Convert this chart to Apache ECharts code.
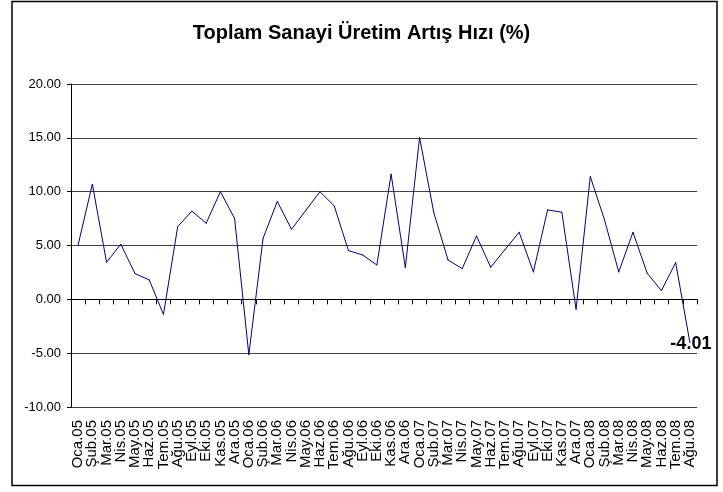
<!DOCTYPE html>
<html>
<head>
<meta charset="utf-8">
<style>
  html, body { margin: 0; padding: 0; background: #fff; }
  #chart { width: 723px; height: 492px; }
</style>
<script src="https://cdn.jsdelivr.net/npm/echarts@6/dist/echarts.min.js"></script>
</head>
<body>
<div id="chart"></div>
<script>
  var categories = [
    'Oca.05', 'Şub.05', 'Mar.05', 'Nis.05', 'May.05', 'Haz.05', 'Tem.05', 'Ağu.05', 'Eyl.05', 'Eki.05', 'Kas.05', 'Ara.05',
    'Oca.06', 'Şub.06', 'Mar.06', 'Nis.06', 'May.06', 'Haz.06', 'Tem.06', 'Ağu.06', 'Eyl.06', 'Eki.06', 'Kas.06', 'Ara.06',
    'Oca.07', 'Şub.07', 'Mar.07', 'Nis.07', 'May.07', 'Haz.07', 'Tem.07', 'Ağu.07', 'Eyl.07', 'Eki.07', 'Kas.07', 'Ara.07',
    'Oca.08', 'Şub.08', 'Mar.08', 'Nis.08', 'May.08', 'Haz.08', 'Tem.08', 'Ağu.08'
  ]
  // sanayi uretim artis hizi, %
  var growth = [
    5.05, 10.70, 3.44, 5.12, 2.39, 1.80, -1.40, 6.76, 8.19, 7.07, 10.00, 7.50,
    -5.15, 5.67, 9.09, 6.51, 8.25, 10.00, 8.68, 4.53, 4.12, 3.19, 11.63, 2.95,
    15.04, 8.06, 3.66, 2.85, 5.89, 2.98, 4.62, 6.23, 2.54, 8.31, 8.09, -0.93,
    11.41, 7.38, 2.54, 6.23, 2.42, 0.81, 3.41, -4.01
  ]
  var yTicks = [-10, -5, 0, 5, 10, 15, 20]

  var lastIndex = growth.length - 1
  var seriesData = growth.map(function (v, i) {
    if (i !== lastIndex) return v
    // only the last month gets a value label
    return {
      value: v,
      label: {
        show: true,
        position: 'inside',
        offset: [1, 2],
        formatter: function (p) { return p.value.toFixed(2) },
        fontFamily: 'Liberation Sans, Arial, sans-serif',
        fontWeight: 'bold',
        fontSize: 18,
        color: '#000'
      }
    }
  })

  var chart = echarts.init(document.getElementById('chart'))
  chart.setOption({
    animation: false,
    backgroundColor: '#fff',
    textStyle: { fontFamily: 'Liberation Sans, Arial, sans-serif' },
    title: {
      text: 'Toplam Sanayi Üretim Artış Hızı (%)',
      left: 'center',
      top: 18,
      textStyle: {
        fontSize: 20,
        fontWeight: 'bold',
        color: '#000'
      }
    },
    graphic: [{
      type: 'rect',
      shape: { x: 12, y: 1.5, width: 705, height: 484 },
      style: { fill: 'none', stroke: '#000', lineWidth: 1.5 },
      silent: true
    }],
    grid: {
      left: 71,
      right: 26,
      top: 84,
      bottom: 85,
      containLabel: false,
      outerBoundsMode: 'none'
    },
    xAxis: [{
      // month labels along the bottom edge
      type: 'category',
      data: categories,
      position: 'bottom',
      boundaryGap: true,
      axisLine: { show: false, onZero: false },
      axisTick: { show: false },
      axisLabel: {
        interval: 0,
        rotate: 90,
        margin: 13,
        fontSize: 15,
        color: '#000'
      },
      splitLine: { show: false }
    }, {
      // axis line with ticks crossing at zero
      type: 'category',
      data: categories,
      position: 'bottom',
      boundaryGap: true,
      axisLine: {
        show: true,
        onZero: true,
        lineStyle: { color: '#000', width: 1 }
      },
      axisTick: {
        show: true,
        interval: 0,
        length: 5,
        lineStyle: { color: '#000' }
      },
      axisLabel: { show: false },
      splitLine: { show: false }
    }],
    yAxis: {
      type: 'value',
      min: yTicks[0],
      max: yTicks[yTicks.length - 1],
      interval: 5,
      axisLine: {
        show: true,
        lineStyle: { color: '#000', width: 1 }
      },
      axisTick: {
        show: true,
        length: 4,
        lineStyle: { color: '#000' }
      },
      axisLabel: {
        margin: 10,
        fontSize: 13,
        color: '#000',
        formatter: function (v) { return v.toFixed(2) }
      },
      splitLine: {
        show: true,
        lineStyle: { color: '#404040', width: 1 }
      }
    },
    series: [{
      name: 'Artış Hızı',
      type: 'line',
      xAxisIndex: 0,
      data: seriesData,
      symbol: 'circle',
      symbolSize: 1,
      showSymbol: true,
      smooth: false,
      lineStyle: { color: '#000080', width: 1 },
      itemStyle: { color: '#000080' }
    }]
  })
</script>
</body>
</html>
